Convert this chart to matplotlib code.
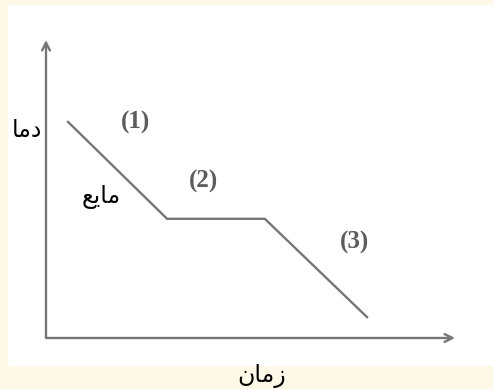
import matplotlib.pyplot as plt
from matplotlib.patches import Rectangle

# cooling curve, arbitrary units (time, temperature)
time = [0.54, 2.96, 5.35, 7.85]
temp = [7.25, 4.0, 4.0, 0.7]

stage_labels = ["(1)", "(2)", "(3)"]
stage_x = [2.20, 3.86, 7.55]
stage_y = [7.22, 5.26, 3.22]

# Persian labels, written in presentation forms (visual order)
label_temp = "\uFE8E\uFEE3\uFEA9"           # دما
label_liquid = "\uFECA\uFEF3\uFE8E\uFEE3"   # مایع
label_time = "\uFEE5\uFE8E\uFEE3\uFEAF"     # زمان

W, H = 493, 389
fig = plt.figure(figsize=(W / 100, H / 100), dpi=100)
fig.patch.set_facecolor("#FDF9E6")

# white panel (the scanned picture)
fig.patches.append(Rectangle((8 / W, 23 / H), 485 / W, 361 / H,
                             transform=fig.transFigure, facecolor="white",
                             edgecolor="none", zorder=-5))

ax = fig.add_axes([46 / W, 51 / H, 409 / W, 298 / H])
ax.set_zorder(2)
ax.set_xlim(0, 10)
ax.set_ylim(0, 10)
ax.axis("off")
ax.patch.set_alpha(0)

gray = "#767676"
arrow = dict(arrowstyle="->", color=gray, lw=1.7, mutation_scale=14,
             shrinkA=0, shrinkB=0)
ax.annotate("", xy=(10, 0), xytext=(0, 0), arrowprops=arrow,
            annotation_clip=False)
ax.annotate("", xy=(0, 10), xytext=(0, 0), arrowprops=arrow,
            annotation_clip=False)

ax.plot(time, temp, color=gray, lw=1.7, solid_joinstyle="miter")

for s, x, y in zip(stage_labels, stage_x, stage_y):
    ax.text(x, y, s, ha="center", va="center", fontsize=18,
            family="Liberation Serif", weight="bold", color="#5c5c5c")

fig.text(27 / W, 1 - 130 / H, label_temp, ha="center", va="center",
         fontsize=17, family="DejaVu Sans", color="black", zorder=5)
fig.text(101 / W, 1 - 197 / H, label_liquid, ha="center", va="center",
         fontsize=17, family="DejaVu Sans", color="black", zorder=5)
fig.text(262 / W, 1 - 376 / H, label_time, ha="center", va="center",
         fontsize=17, family="DejaVu Sans", color="black", zorder=5)

fig.savefig("out.png", dpi=100, facecolor=fig.get_facecolor())
